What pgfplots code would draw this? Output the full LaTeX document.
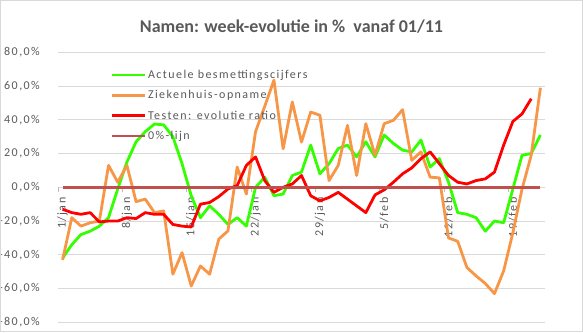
\documentclass[border=0pt]{standalone}
\usepackage{fontspec}
\setmainfont{Carlito}
\newfontfamily\lblfont{Carlito}[LetterSpace=12]
\usepackage{pgfplots}
\usepackage{pgfplotstable}
\pgfplotsset{compat=1.18}
\definecolor{cgreen}{HTML}{33FF00}
\definecolor{corange}{HTML}{F79646}
\definecolor{cred}{HTML}{FF0000}
\definecolor{cbrown}{HTML}{C0504D}
\definecolor{cgrid}{HTML}{D9D9D9}
\definecolor{ctext}{HTML}{595959}

\pgfplotstableread{
d g o r
0 -42 -43 -13
1 -34 -18 -15
2 -28 -23 -16
3 -26 -21 -15
4 -23 -20 -20.5
5 -18 13 -20
6 -1 3 -20
7 15 13 -18
8 27 -8.5 -18.5
9 33 -7 -15
10 37.5 -15 -16
11 37 -14 -16
12 30 -51.5 -22
13 14 -38.7 -23
14 -5 -58.5 -23.5
15 -18 -46.6 -10
16 -11 -51.5 -9
17 -16 -30.7 -5.5
18 -22 -25.8 -1
19 -18 12 1
20 -23 -4 13
21 0 33 18
22 6 48 4
23 -5 63.5 -3
24 -4 22.8 0
25 7 50.6 2
26 9 26.8 7
27 25 44.6 -5
28 8 42.7 -8
29 14 4 -6
30 23 13 -3
31 25 36.7 -7
32 18 7 -11
33 27 37.7 -15
34 18 19 -4.5
35 31 37.7 -1.5
36 26 39.7 3
37 22 46 8
38 21 16 11.5
39 28 21 17
40 12 6 21
41 17 5.6 14
42 3 -30 7
43 -15 -32 3
44 -16 -47.5 2
45 -18 -52.5 4
46 -26 -57 5
47 -20 -63 9
48 -21 -49.5 25
49 -1 -27 39
50 19 -1 43.5
51 20 19 52.5
52 31 59 nan
}\data

\begin{document}
\begin{tikzpicture}
\begin{axis}[
  scale only axis, width=487bp, height=270bp,
  xmin=-0.5, xmax=52.5, ymin=-80, ymax=80,
  axis x line=middle, axis y line=left,
  axis line style={draw=none},
  hide obscured x ticks=false,
  ytick={-80,-60,...,80},
  ymajorgrids, grid style={cgrid, line width=0.75bp},
  ytick style={draw=none},
  yticklabel={\pgfmathprintnumber[fixed,fixed zerofill,precision=1,use comma,assume math mode=true]{\tick}\%},
  yticklabel style={font=\lblfont\fontsize{12bp}{14bp}\selectfont, text=ctext, anchor=east, inner sep=0pt, xshift=-13bp},
  xtick={-0.5,6.5,13.5,20.5,27.5,34.5,41.5,48.5}, xticklabels={},
  xtick style={draw=cgrid!70!gray, line width=0.75bp},
  major tick length=5bp, tick align=outside,
  extra x ticks={0,7,14,21,28,35,42,49},
  extra x tick labels={1/jan,8/jan,15/jan,22/jan,29/jan,5/feb,12/feb,19/feb},
  extra x tick style={major tick length=0pt, xticklabel style={font=\lblfont\fontsize{12bp}{14bp}\selectfont, text=ctext, rotate=90, anchor=east, inner sep=0pt, inner xsep=10bp}},
  legend image code/.code={\draw[#1, line width=2.8bp] (0bp,0bp) -- (33bp,0bp);},
  legend cell align=left,
  legend style={draw=none, fill=none, inner sep=0pt, row sep=6.5bp, anchor=north west, at={(axis description cs:0.1068,0.942)},
    font=\lblfont\fontsize{12bp}{14bp}\selectfont, text=ctext},
  every axis plot/.append style={line width=2.8bp, line join=round},
]
\addplot[cgreen] table[x=d,y=g] {\data};
\addlegendentry{Actuele besmettingscijfers}
\addplot[corange] table[x=d,y=o] {\data};
\addlegendentry{Ziekenhuis-opname}
\addplot[cred] table[x=d,y=r] {\data};
\addlegendentry{Testen: evolutie ratio}
\addplot[cbrown] coordinates {(0,0) (52,0)};
\addlegendentry{0\%-lijn}
\end{axis}
\node[anchor=base, font=\bfseries\fontsize{18bp}{21bp}\selectfont, text=ctext] at ([xshift=-10bp,yshift=19.3bp]current axis.north) {Namen: week-evolutie in \%~ vanaf 01/11};
\draw[cgrid, line width=1bp] ([shift={(-57.5bp,-9.2bp)}]current axis.south west) rectangle ([shift={(37.5bp,51.8bp)}]current axis.north east);
\pgfresetboundingbox
\path[use as bounding box] ([shift={(-58bp,-9.7bp)}]current axis.south west) rectangle ([shift={(38bp,52.3bp)}]current axis.north east);
\end{tikzpicture}
\end{document}
